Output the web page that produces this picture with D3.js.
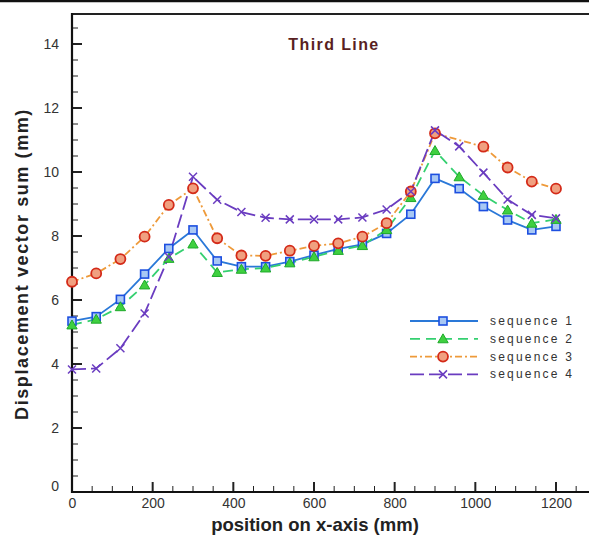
<!DOCTYPE html>
<html><head><meta charset="utf-8">
<script src="https://cdn.jsdelivr.net/npm/d3@7"></script>
<style>body{margin:0;background:#fff}svg{display:block}text{font-family:"Liberation Sans",Arial,sans-serif}</style>
</head><body><svg id="c" width="589" height="535"></svg>
<script>
const xs = [0,60,120,180,240,300,360,420,480,540,600,660,720,780,840,900,960,1020,1080,1140,1200];
const seq1 = [5.34,5.48,6.02,6.81,7.61,8.19,7.22,7.04,7.04,7.2,7.4,7.6,7.74,8.08,8.68,9.8,9.48,8.92,8.5,8.19,8.3];
const seq2 = [5.22,5.4,5.79,6.47,7.3,7.75,6.86,6.96,7.0,7.16,7.35,7.55,7.7,8.2,9.2,10.67,9.85,9.27,8.81,8.4,8.52];
const seq3 = [6.57,6.83,7.28,7.98,8.97,9.49,7.93,7.39,7.38,7.54,7.69,7.77,7.98,8.4,9.39,11.21,null,10.79,10.14,9.7,9.48];
const seq4 = [3.83,3.86,4.49,5.58,7.35,9.85,9.13,8.75,8.57,8.52,8.52,8.52,8.58,8.83,9.39,11.3,10.8,9.98,9.14,8.66,8.55];
const seriesNames = ["sequence 1","sequence 2","sequence 3","sequence 4"];
const xTicks = [0,200,400,600,800,1000,1200];
const yTicks = [0,2,4,6,8,10,12,14];
const title = "Third Line";
const xLabel = "position on x-axis (mm)";
const yLabel = "Displacement vector sum (mm)";

const svg = d3.select("#c");
const x = d3.scaleLinear().domain([0,1200]).range([72,556]);
const y = d3.scaleLinear().domain([0,15]).range([492,12]);

const styles = [
  {line:"#2a78d8", dash:null, marker:"square", stroke:"#1d4fe0", fill:"#a8c8f4"},
  {line:"#35d070", dash:"10,6", marker:"triangle", stroke:"#1faa2a", fill:"#3fd040"},
  {line:"#ee9a3a", dash:"7,3,2,3", marker:"circle", stroke:"#d42a18", fill:"#f0a080"},
  {line:"#6a3cc0", dash:"14,5", marker:"cross", stroke:"#6a3cc0", fill:"none"}
];
const data = [seq1,seq2,seq3,seq4];

svg.append("line").attr("x1",0).attr("x2",589).attr("y1",1).attr("y2",1).attr("stroke","#111").attr("stroke-width",2.5);
svg.append("line").attr("x1",71).attr("x2",600).attr("y1",14).attr("y2",14).attr("stroke","#222").attr("stroke-width",2);

const g = svg.append("g");
d3.range(0,1301,50).forEach(v=>{
  const major = v%200===0;
  g.append("line").attr("x1",x(v)).attr("x2",x(v)).attr("y1",y(0)).attr("y2",y(0)-(major?10:6))
   .attr("stroke","#222").attr("stroke-width",major?2:1);
});
d3.range(0,15,0.5).forEach(v=>{
  const major = v%2===0;
  g.append("line").attr("x1",x(0)).attr("x2",x(0)+(major?10:6)).attr("y1",y(v)).attr("y2",y(v))
   .attr("stroke","#222").attr("stroke-width",major?2:1);
});

const xAxis = d3.axisBottom(x).tickValues(xTicks).tickFormat(d3.format("d")).tickSize(0).tickPadding(6);
const xg = svg.append("g").attr("transform",`translate(0,${y(0)})`).call(xAxis);
xg.select(".domain").remove();
xg.selectAll("text").attr("font-size",14).attr("fill","#333").attr("font-family","Liberation Sans, Arial");
const yAxis = d3.axisLeft(y).tickValues(yTicks).tickFormat(d3.format("d")).tickSize(0).tickPadding(13);
const yg = svg.append("g").attr("transform",`translate(${x(0)},0)`).call(yAxis);
yg.select(".domain").remove();
yg.selectAll("text").attr("font-size",14).attr("fill","#333").attr("font-family","Liberation Sans, Arial");
yg.selectAll(".tick").filter(d=>d===0).select("text").attr("dy","-0.1em");

svg.append("line").attr("x1",x(0)).attr("x2",x(0)).attr("y1",13).attr("y2",y(0)+1).attr("stroke","#111").attr("stroke-width",2.2);
svg.append("line").attr("x1",x(0)-1).attr("x2",600).attr("y1",y(0)).attr("y2",y(0)).attr("stroke","#111").attr("stroke-width",2.2);

function drawMarker(sel, type, cx, cy, st){
  if(type==="square") sel.append("rect").attr("x",cx-4).attr("y",cy-4).attr("width",8).attr("height",8).attr("fill",st.fill).attr("stroke",st.stroke).attr("stroke-width",1.6);
  else if(type==="triangle") sel.append("path").attr("d",d3.symbol(d3.symbolTriangle,46)()).attr("transform",`translate(${cx},${cy+1})`).attr("fill",st.fill).attr("stroke",st.stroke).attr("stroke-width",1);
  else if(type==="circle") sel.append("circle").attr("cx",cx).attr("cy",cy).attr("r",5).attr("fill",st.fill).attr("stroke",st.stroke).attr("stroke-width",1.8);
  else sel.append("path").attr("d",`M${cx-4},${cy-4}L${cx+4},${cy+4}M${cx-4},${cy+4}L${cx+4},${cy-4}`).attr("stroke",st.stroke).attr("stroke-width",1.5);
}

const line = d3.line().x(d=>x(d[0])).y(d=>y(d[1]));
data.forEach((vals,i)=>{
  const st = styles[i];
  const pts = xs.map((xv,j)=>[xv,vals[j]]).filter(d=>d[1]!==null);
  svg.append("path").attr("d",line(pts)).attr("fill","none").attr("stroke",st.line).attr("stroke-width",1.8)
    .attr("stroke-dasharray",st.dash);
});
data.forEach((vals,i)=>{
  const st = styles[i];
  const mg = svg.append("g");
  xs.forEach((xv,j)=>{ if(vals[j]!==null) drawMarker(mg, st.marker, x(xv), y(vals[j]), st); });
});

const lg = svg.append("g");
seriesNames.forEach((n,i)=>{
  const ly = 321 + i*17.8, st = styles[i];
  lg.append("line").attr("x1",410).attr("x2",478).attr("y1",ly).attr("y2",ly).attr("stroke",st.line).attr("stroke-width",1.8).attr("stroke-dasharray",st.dash);
  drawMarker(lg, st.marker, 443, ly, st);
  lg.append("text").attr("x",490).attr("y",ly+4).attr("font-size",12).attr("letter-spacing","2.2px").attr("fill","#333").text(n);
});

svg.append("text").attr("x",334).attr("y",50).attr("text-anchor","middle").attr("font-size",16).attr("font-weight","bold").attr("letter-spacing","1.4px").attr("fill","#5a1f22").text(title);
svg.append("text").attr("x",315).attr("y",531).attr("text-anchor","middle").attr("font-size",18.5).attr("font-weight","bold").attr("fill","#222").text(xLabel);
svg.append("text").attr("transform","translate(28,264) rotate(-90)").attr("text-anchor","middle").attr("font-size",18).attr("font-weight","bold").attr("letter-spacing","1.6px").attr("fill","#222").text(yLabel);
</script></body></html>
